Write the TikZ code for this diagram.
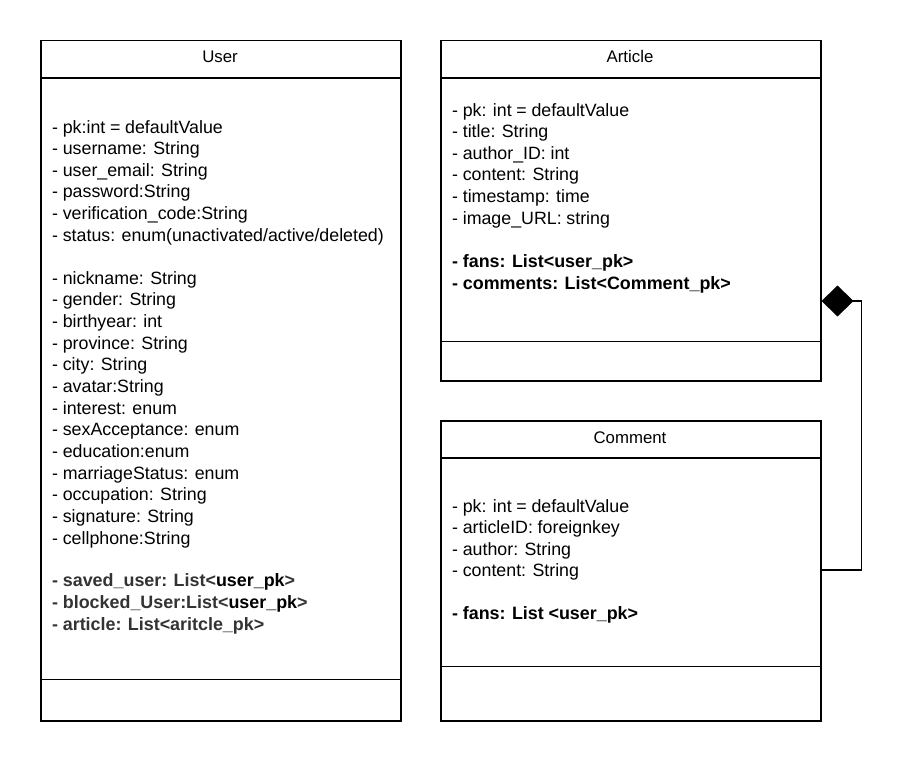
\documentclass[tikz,border=0pt]{standalone}
\usepackage{fontspec}
\setmainfont{Liberation Sans}[WordSpace=0.95]
\usetikzlibrary{arrows.meta,calc}
\definecolor{darktext}{HTML}{333333}
\tikzset{
  umlbox/.style={draw=black, line width=1.5pt, fill=white, anchor=north west, inner sep=0pt},
  sep/.style={line width=1.5pt},
  txt/.style={anchor=base west, inner sep=0pt, font=\fontsize{17.8}{20}\selectfont},
  ttl/.style={anchor=base, inner sep=0pt, font=\fontsize{16.8}{20}\selectfont},
  btxt/.style={txt, font=\fontsize{17.9}{20}\selectfont\bfseries},
  link/.style={line width=1.5pt, -{Diamond[length=32pt,width=31pt,fill=black]}}
}
\begin{document}
\begin{tikzpicture}[x=1pt,y=-1pt]
\useasboundingbox (0,0) rectangle (901,760);
\fill[white] (0,0) rectangle (901,760);

% class boxes
\node[umlbox, minimum width=360pt, minimum height=680pt] (user) at (40,40) {};
\node[umlbox, minimum width=380pt, minimum height=340pt] (article) at (440,40) {};
\node[umlbox, minimum width=380pt, minimum height=300pt] (comment) at (440,420) {};

% compartment separators
\draw[sep] ($(user.north west)+(0,38)$) -- ($(user.north east)+(0,38)$);
\draw[sep] ($(user.south west)+(0,-42)$) -- ($(user.south east)+(0,-42)$);
\draw[sep] ($(article.north west)+(0,38)$) -- ($(article.north east)+(0,38)$);
\draw[sep] ($(article.south west)+(0,-40)$) -- ($(article.south east)+(0,-40)$);
\draw[sep] ($(comment.north west)+(0,38)$) -- ($(comment.north east)+(0,38)$);
\draw[sep] ($(comment.south west)+(0,-55)$) -- ($(comment.south east)+(0,-55)$);

% titles
\node[ttl] (usertitle) at (220,63) {User};
\node[ttl] (articletitle) at (630,63) {Article};
\node[ttl] (commenttitle) at (630,443) {Comment};

% User attributes
\foreach \t [count=\i] in {
  - pk:int = defaultValue,
  - username: String,
  - user\_email: String,
  - password:String,
  - verification\_code:String,
  - status: enum(unactivated/active/deleted)}
  \node[txt] (ua\i) at (52,{133+(\i-1)*21.65}) {\t};
\foreach \t [count=\i] in {
  - nickname: String,
  - gender: String,
  - birthyear: int,
  - province: String,
  - city: String,
  - avatar:String,
  - interest: enum,
  - sexAcceptance: enum,
  - education:enum,
  - marriageStatus: enum,
  - occupation: String,
  - signature: String,
  - cellphone:String}
  \node[txt] (ub\i) at (52,{284+(\i-1)*21.67}) {\t};
\node[btxt, text=darktext] (uc1) at (52,586) {- saved\_user: List<{\color{black}user\_pk}>};
\node[btxt, text=darktext] (uc2) at (52,608) {- blocked\_User:List<{\color{black}user\_pk}>};
\node[btxt, text=darktext] (uc3) at (52,630) {- article: List<aritcle\_pk>};

% Article attributes
\foreach \t [count=\i] in {
  - pk: int = defaultValue,
  - title: String,
  - author\_ID: int,
  - content: String,
  - timestamp: time,
  - image\_URL: string}
  \node[txt] (aa\i) at (452,{116+(\i-1)*21.6}) {\t};
\node[btxt] (ab1) at (452,267) {- fans: List<user\_pk>};
\node[btxt] (ab2) at (452,289) {- comments: List<Comment\_pk>};

% Comment attributes
\foreach \t [count=\i] in {
  - pk: int = defaultValue,
  - articleID: foreignkey,
  - author: String,
  - content: String}
  \node[txt] (ca\i) at (452,{512+(\i-1)*21.5}) {\t};
\node[btxt] (cb1) at (452,619) {- fans: List <user\_pk>};

% composition: Comment is part of Article
\coordinate (cend) at ($(comment.north east)+(0,150)$);
\coordinate (aend) at ($(article.north east)+(0,261)$);
\draw[link] (cend) -- ++(40,0) |- (aend);
\end{tikzpicture}
\end{document}
